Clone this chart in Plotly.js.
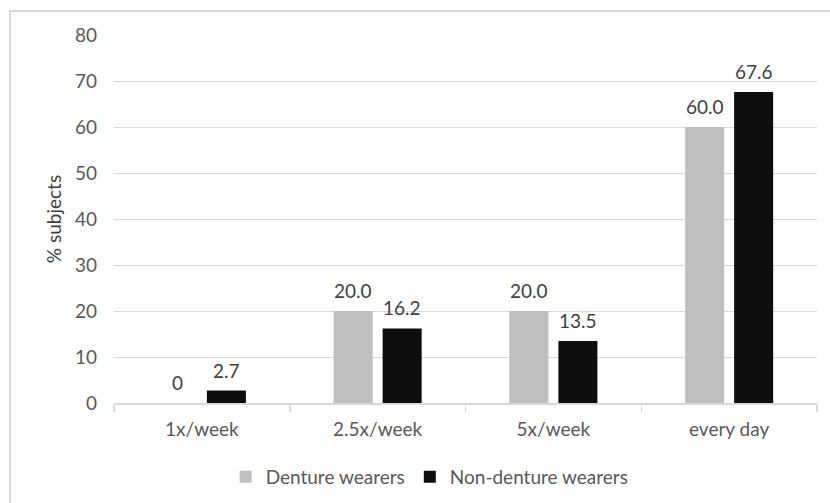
<!DOCTYPE html>
<html>
<head>
<meta charset="utf-8">
<script src="https://cdn.plot.ly/plotly-3.0.1.min.js"></script>
<style>
  html, body { margin: 0; padding: 0; background: #ffffff; overflow: hidden; }
  #frame { position: absolute; left: 9px; top: 10px; width: 900px; height: 600px;
           border-left: 2px solid #d9d9d9; border-top: 2px solid #d9d9d9; box-sizing: border-box; }
  #chart { position: absolute; left: 0; top: 0; width: 830px; height: 503px; }
</style>
</head>
<body>
<div id="frame"></div>
<div id="chart"></div>
<script>
// ---- data ----
const categories = ['1x/week', '2.5x/week', '5x/week', 'every day'];
const dentureWearers = [0, 20.0, 20.0, 60.0];
const nonDentureWearers = [2.7, 16.2, 13.5, 67.6];
const seriesNames = ['Denture wearers', 'Non-denture wearers'];
const yTicks = [0, 10, 20, 30, 40, 50, 60, 70, 80];

const FONT = 'Lato, "Open Sans", sans-serif';
const fmt = v => (v === 0 ? '0' : v.toFixed(1));

const traces = [
  { type: 'bar', name: seriesNames[0], x: categories, y: dentureWearers,
    marker: { color: '#bfbfbf' }, hoverinfo: 'none' },
  { type: 'bar', name: seriesNames[1], x: categories, y: nonDentureWearers,
    marker: { color: '#0d0d0d' }, hoverinfo: 'none' }
];

const annotations = [];
[dentureWearers, nonDentureWearers].forEach((vals, s) => {
  vals.forEach((v, i) => {
    annotations.push({
      x: categories[i], y: v, xref: 'x', yref: 'y',
      text: fmt(v), showarrow: false, yanchor: 'bottom',
      xshift: s === 0 ? -24.5 : 24.5, yshift: 7,
      font: { family: FONT, size: 19, color: '#404040' }
    });
  });
});

const layout = {
  width: 830, height: 503,
  paper_bgcolor: 'rgba(0,0,0,0)', plot_bgcolor: 'rgba(0,0,0,0)',
  margin: { l: 114, r: 13, t: 35, b: 100, autoexpand: false },
  barmode: 'group', bargap: 0.442, bargroupgap: 0.204,
  font: { family: FONT, size: 19, color: '#595959' },
  xaxis: {
    type: 'category', showgrid: false, zeroline: false,
    showline: true, linecolor: '#d9d9d9', linewidth: 1.5,
    ticks: 'outside', tickson: 'boundaries', ticklen: 7, tickcolor: '#d9d9d9', tickwidth: 1.5,
    ticklabelstandoff: 9,
    tickfont: { family: FONT, size: 19, color: '#595959' }
  },
  yaxis: {
    range: [0, 80], tickvals: yTicks, ticktext: yTicks.map(String),
    showgrid: true, gridcolor: '#d9d9d9', gridwidth: 1, zeroline: false, showline: false,
    ticks: '', ticklabelstandoff: 16,
    tickfont: { family: FONT, size: 19, color: '#595959' },
    title: { text: '% subjects', standoff: 8, font: { family: FONT, size: 19, color: '#404040' } }
  },
  showlegend: true,
  legend: { orientation: 'h', x: 0.449, xanchor: 'center', y: -0.201, yanchor: 'middle',
            font: { family: FONT, size: 19, color: '#595959' } },
  annotations: annotations
};

Plotly.newPlot('chart', traces, layout, { displayModeBar: false, staticPlot: true });
</script>
</body>
</html>
